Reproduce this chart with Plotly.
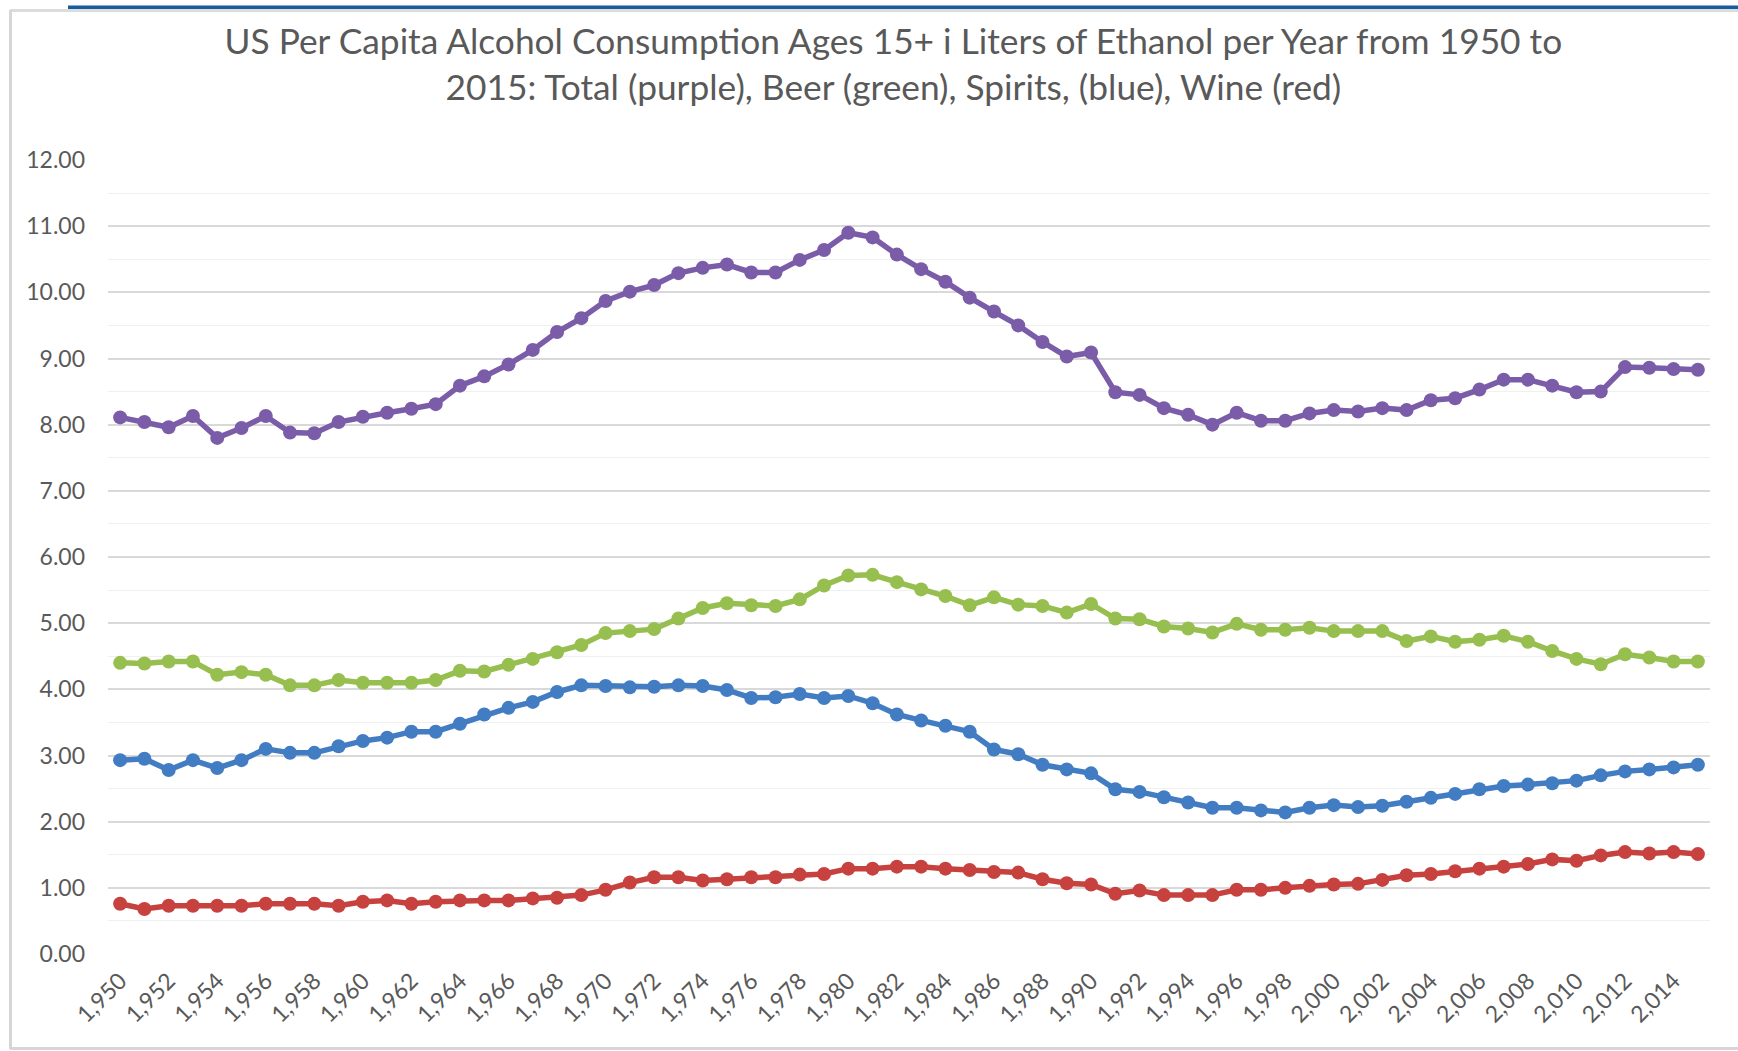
import plotly.graph_objects as go

years = list(range(1950, 2016))

total = [8.11, 8.04, 7.96, 8.13, 7.80, 7.95, 8.13, 7.88, 7.87, 8.04,
         8.12, 8.18, 8.24, 8.31, 8.59, 8.73, 8.91, 9.13, 9.40, 9.61,
         9.87, 10.01, 10.11, 10.29, 10.37, 10.42, 10.30, 10.30, 10.49, 10.64,
         10.90, 10.83, 10.57, 10.35, 10.16, 9.92, 9.71, 9.50, 9.25, 9.03,
         9.09, 8.49, 8.45, 8.25, 8.15, 8.00, 8.18, 8.06, 8.06, 8.17,
         8.22, 8.20, 8.25, 8.22, 8.37, 8.40, 8.53, 8.68, 8.68, 8.59,
         8.49, 8.50, 8.87, 8.86, 8.84, 8.83]

beer = [4.40, 4.39, 4.42, 4.42, 4.22, 4.26, 4.22, 4.06, 4.06, 4.14,
        4.10, 4.10, 4.10, 4.14, 4.28, 4.27, 4.37, 4.46, 4.56, 4.67,
        4.85, 4.88, 4.91, 5.07, 5.23, 5.30, 5.27, 5.26, 5.36, 5.57,
        5.72, 5.73, 5.62, 5.51, 5.41, 5.27, 5.39, 5.28, 5.26, 5.16,
        5.29, 5.07, 5.06, 4.95, 4.92, 4.86, 4.99, 4.90, 4.90, 4.93,
        4.88, 4.88, 4.88, 4.73, 4.80, 4.72, 4.75, 4.81, 4.72, 4.58,
        4.46, 4.38, 4.53, 4.48, 4.42, 4.42]

spirits = [2.93, 2.95, 2.78, 2.93, 2.81, 2.93, 3.10, 3.04, 3.04, 3.14,
           3.22, 3.27, 3.36, 3.36, 3.48, 3.62, 3.72, 3.81, 3.96, 4.06,
           4.05, 4.03, 4.04, 4.06, 4.05, 3.99, 3.87, 3.88, 3.93, 3.87,
           3.90, 3.79, 3.62, 3.53, 3.45, 3.36, 3.09, 3.02, 2.86, 2.79,
           2.73, 2.49, 2.45, 2.37, 2.29, 2.21, 2.21, 2.17, 2.14, 2.21,
           2.25, 2.22, 2.24, 2.30, 2.36, 2.42, 2.49, 2.54, 2.56, 2.58,
           2.62, 2.70, 2.76, 2.79, 2.82, 2.86]

wine = [0.76, 0.68, 0.73, 0.73, 0.73, 0.73, 0.76, 0.76, 0.76, 0.73,
        0.79, 0.81, 0.76, 0.79, 0.81, 0.81, 0.81, 0.84, 0.85, 0.89,
        0.97, 1.08, 1.16, 1.16, 1.11, 1.13, 1.16, 1.16, 1.20, 1.21,
        1.29, 1.29, 1.32, 1.32, 1.29, 1.27, 1.24, 1.23, 1.13, 1.07,
        1.05, 0.91, 0.96, 0.89, 0.89, 0.89, 0.97, 0.97, 1.00, 1.03,
        1.05, 1.06, 1.12, 1.19, 1.21, 1.25, 1.29, 1.32, 1.36, 1.43,
        1.41, 1.49, 1.54, 1.52, 1.54, 1.51]

x_tick_vals = [1950, 1952, 1954, 1956, 1958, 1960, 1962, 1964, 1966, 1968,
               1970, 1972, 1974, 1976, 1978, 1980, 1982, 1984, 1986, 1988,
               1990, 1992, 1994, 1996, 1998, 2000, 2002, 2004, 2006, 2008,
               2010, 2012, 2014]
x_tick_text = ["1,950", "1,952", "1,954", "1,956", "1,958", "1,960", "1,962",
               "1,964", "1,966", "1,968", "1,970", "1,972", "1,974", "1,976",
               "1,978", "1,980", "1,982", "1,984", "1,986", "1,988", "1,990",
               "1,992", "1,994", "1,996", "1,998", "2,000", "2,002", "2,004",
               "2,006", "2,008", "2,010", "2,012", "2,014"]
y_tick_vals = [0, 1, 2, 3, 4, 5, 6, 7, 8, 9, 10, 11, 12]
y_tick_text = ["0.00", "1.00", "2.00", "3.00", "4.00", "5.00", "6.00",
               "7.00", "8.00", "9.00", "10.00", "11.00", "12.00"]

title_text = ("US Per Capita Alcohol Consumption Ages 15+ i Liters of Ethanol per Year from 1950 to"
              "<br>2015: Total (purple), Beer (green), Spirits, (blue), Wine (red)")

series = [
    ("Total", total, "#7B5CA9"),
    ("Beer", beer, "#97BF4F"),
    ("Spirits", spirits, "#427CC3"),
    ("Wine", wine, "#C7423F"),
]

W, H = 1738, 1051
L, R, T, B = 108, 28, 160, 97
PW, PH = W - L - R, H - T - B

def px_x(v):
    return (v - L) / PW

def px_y(v):
    return (H - B - v) / PH

fig = go.Figure()
for name, vals, color in series:
    fig.add_trace(go.Scatter(
        x=years, y=vals, name=name, mode="lines+markers",
        line=dict(color=color, width=5.5),
        marker=dict(color=color, size=14),
    ))

shapes = [
    # blue header bar
    dict(type="rect", xref="paper", yref="paper",
         x0=px_x(68), x1=px_x(W + 5), y0=px_y(9), y1=px_y(5.5),
         fillcolor="#175D9F", line=dict(width=0), layer="above"),
    # frame lines
    dict(type="line", xref="paper", yref="paper",
         x0=px_x(10), x1=px_x(W + 5), y0=px_y(10.5), y1=px_y(10.5),
         line=dict(color="#dcdcdc", width=3), layer="above"),
    dict(type="line", xref="paper", yref="paper",
         x0=px_x(10.5), x1=px_x(10.5), y0=px_y(10), y1=px_y(1049),
         line=dict(color="#d6d6d6", width=3), layer="above"),
    dict(type="line", xref="paper", yref="paper",
         x0=px_x(10), x1=px_x(W + 5), y0=px_y(1048.5), y1=px_y(1048.5),
         line=dict(color="#d6d6d6", width=3), layer="above"),
]

fig.update_layout(
    width=W, height=H,
    margin=dict(l=L, r=R, t=T, b=B),
    paper_bgcolor="white", plot_bgcolor="white",
    showlegend=False,
    font=dict(family="Lato", color="#595959"),
    title=dict(text=title_text, x=(806 * 1738 / 1568) / W, xanchor="center",
               xref="container", yref="container",
               y=1 - 54 / H, yanchor="middle",
               font=dict(family="Lato", size=35.3, color="#595959")),
    shapes=shapes,
)
fig.update_xaxes(
    range=[1949.5, 2015.5], tickmode="array",
    tickvals=x_tick_vals, ticktext=x_tick_text, tickangle=-45,
    showgrid=False, zeroline=False, showline=False, ticks="",
    tickfont=dict(family="Lato", size=23, color="#595959"),
    ticklabelstandoff=8,
)
fig.update_yaxes(
    range=[0, 12], tickmode="array",
    tickvals=y_tick_vals, ticktext=y_tick_text,
    showgrid=True, gridcolor="#d9d9d9", gridwidth=1.5,
    zeroline=False, showline=False, ticks="",
    tickfont=dict(family="Lato", size=23, color="#595959"),
    ticklabelstandoff=22,
    minor=dict(dtick=0.5, tick0=0, showgrid=True, gridcolor="#f0f0f0", gridwidth=1),
)

fig.write_html("out.html", config={"displayModeBar": False},
               post_script="document.body.style.margin='0px';")
